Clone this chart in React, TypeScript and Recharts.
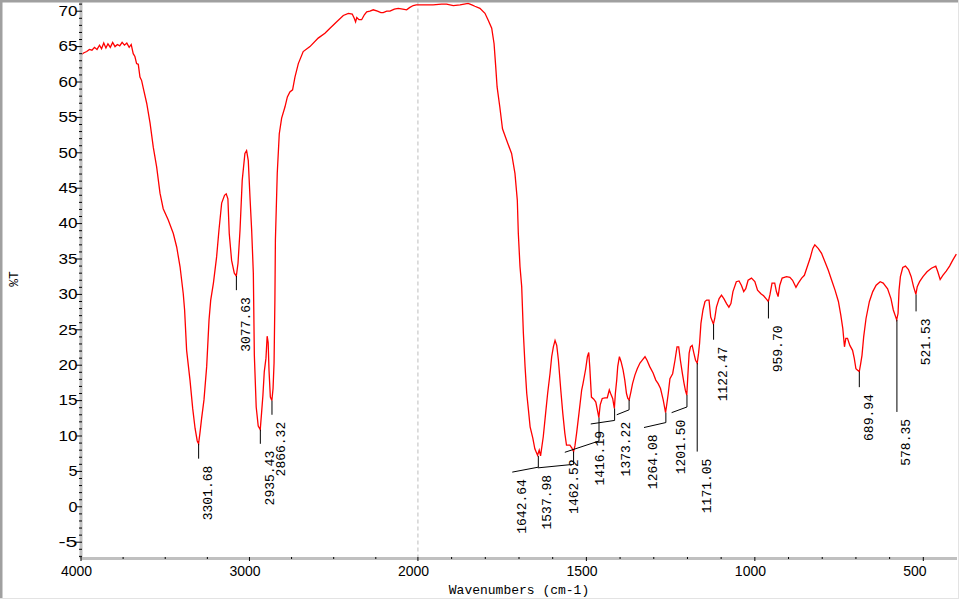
import React from "react";
import { ComposedChart, Line, Scatter, XAxis, YAxis, ReferenceLine } from "recharts";

// IR spectrum (wavenumber in cm-1, %T)
const wavenumbers = [
  4000, 3985, 3966, 3950, 3935, 3920, 3905, 3890, 3878, 3865,
  3852, 3840, 3826, 3812, 3798, 3784, 3770, 3756, 3742, 3728,
  3714, 3702, 3690, 3680, 3670, 3660, 3650, 3640, 3630, 3610,
  3590, 3571, 3551, 3531, 3512, 3482, 3452, 3432, 3412, 3393,
  3385, 3373, 3353, 3337, 3323, 3310, 3302, 3294, 3284, 3270,
  3254, 3240, 3230, 3214, 3195, 3181, 3165, 3148, 3138, 3128,
  3120, 3106, 3090, 3078, 3068, 3056, 3043, 3027, 3017, 3007,
  2997, 2987, 2977, 2971, 2960, 2948, 2936, 2928, 2920, 2912,
  2902, 2895, 2889, 2884, 2876, 2867, 2860, 2854, 2849, 2846,
  2835, 2823, 2809, 2789, 2775, 2760, 2744, 2730, 2710, 2681,
  2641, 2592, 2552, 2522, 2482, 2443, 2413, 2390, 2378, 2370,
  2363, 2350, 2334, 2318, 2304, 2285, 2265, 2240, 2220, 2206,
  2185, 2166, 2140, 2117, 2090, 2067, 2050, 2028, 2010,
  1994, 1955, 1930, 1915, 1895, 1875, 1851, 1840, 1831, 1816,
  1801, 1791, 1781, 1774, 1769, 1765, 1757, 1749, 1737, 1722,
  1712, 1705, 1702, 1697, 1692, 1687, 1682, 1677, 1672, 1667,
  1659, 1653, 1645, 1640, 1636, 1628, 1621, 1615, 1608, 1603,
  1598, 1593, 1588, 1583, 1576, 1570, 1564, 1559, 1549, 1543,
  1538, 1534, 1529, 1522, 1514, 1510, 1502, 1497, 1493, 1490,
  1485, 1478, 1472, 1467, 1463, 1459, 1453, 1445, 1438, 1432,
  1428, 1422, 1417, 1414, 1410, 1407, 1402, 1397, 1391, 1386,
  1381, 1377, 1373, 1368, 1363, 1356, 1349, 1341, 1333, 1326,
  1320, 1312, 1302, 1294, 1287, 1280, 1272, 1265, 1261, 1257,
  1252, 1244, 1237, 1231, 1226, 1221, 1215, 1210, 1206, 1202,
  1199, 1195, 1191, 1186, 1181, 1176, 1171, 1167, 1164, 1160,
  1154, 1148, 1143, 1136, 1131, 1123, 1119, 1114, 1106, 1099,
  1092, 1084, 1077, 1071, 1065, 1055, 1047, 1040, 1033, 1027,
  1020, 1010, 1000, 992, 982, 974, 965, 960, 955, 949,
  941, 936, 931, 926, 919, 906, 896, 888, 878, 871,
  861, 853, 846, 836, 828, 822, 812, 802, 792, 782,
  772, 762, 752, 745, 739, 734, 730, 725, 718, 710,
  705, 700, 695, 690, 686, 682, 677, 670, 660, 650,
  640, 628, 619, 606, 596, 589, 579, 575, 572, 568,
  561, 553, 544, 536, 529, 522, 518, 511, 501, 489,
  476, 463, 457, 450, 442, 432, 422, 413, 402,
];

const transmittance = [
  63.8, 64.1, 64.3, 64.6, 64.5, 64.9, 64.6, 65.2, 64.7, 65.5,
  64.8, 65.4, 64.9, 65.6, 65.0, 65.3, 65.1, 65.6, 65.2, 65.5,
  64.9, 65.3, 64.0, 63.6, 62.6, 62.5, 60.7, 60.2, 59.1, 57.0,
  54.2, 50.8, 48.0, 44.3, 42.1, 40.5, 38.6, 36.7, 33.9, 30.1,
  27.8, 22.1, 17.9, 13.9, 11.1, 9.3, 8.9, 10.4, 12.5, 15.1,
  19.8, 26.4, 29.2, 31.6, 35.3, 39.1, 42.9, 44.0, 44.2, 43.5,
  38.6, 34.8, 33.0, 32.6, 34.4, 39.1, 46.1, 49.9, 50.3, 48.9,
  43.8, 39.1, 33.0, 21.4, 14.1, 11.4, 10.9, 13.3, 15.8, 19.1,
  21.0, 24.1, 23.2, 19.3, 15.5, 15.0, 16.7, 20.3, 29.2, 37.7,
  47.1, 52.7, 54.9, 56.5, 57.9, 58.6, 58.9, 60.7, 62.6, 64.3,
  65.0, 66.2, 66.9, 67.6, 68.5, 69.4, 69.7, 69.6, 69.0, 68.5,
  69.1, 68.8, 68.8, 69.5, 69.9, 70.0, 70.2, 70.0, 69.8, 69.8,
  70.0, 70.0, 70.3, 70.4, 70.3, 70.2, 70.5, 70.8, 70.9,
  70.9, 70.9, 71.0, 71.0, 70.8, 70.9, 71.1, 70.9, 70.7, 70.4,
  69.7, 68.7, 67.6, 65.4, 62.1, 59.3, 56.5, 53.4, 51.8, 49.9,
  47.1, 43.3, 38.6, 33.9, 31.1, 24.5, 19.8, 16.0, 13.7, 11.3,
  9.7, 8.2, 7.3, 8.0, 7.2, 9.9, 13.2, 16.0, 18.8, 21.2,
  22.6, 23.5, 22.8, 20.7, 16.5, 13.2, 10.4, 8.7, 8.7, 8.3,
  7.8, 8.6, 10.4, 13.2, 16.5, 17.4, 19.5, 21.2, 21.8, 19.8,
  15.5, 15.2, 14.8, 13.6, 12.6, 14.4, 15.3, 15.4, 15.4, 16.5,
  16.0, 15.3, 13.9, 16.0, 17.9, 19.8, 21.2, 20.5, 19.3, 17.9,
  16.0, 15.3, 15.1, 16.2, 17.4, 18.6, 19.5, 20.3, 20.8, 21.2,
  20.7, 19.8, 18.9, 17.9, 17.4, 16.7, 15.1, 13.3, 14.6, 16.0,
  18.1, 18.8, 20.7, 22.6, 22.6, 20.7, 18.8, 17.4, 16.4, 15.8,
  18.4, 21.7, 22.6, 22.8, 21.7, 20.7, 20.3, 21.7, 23.1, 25.9,
  27.8, 29.0, 29.2, 29.2, 26.8, 25.8, 26.6, 28.2, 29.4, 29.9,
  29.4, 28.7, 28.2, 28.7, 30.4, 31.8, 31.9, 31.3, 30.4, 30.8,
  32.0, 32.3, 31.8, 30.6, 30.1, 29.8, 29.3, 29.0, 30.0, 31.6,
  31.6, 30.4, 29.7, 31.3, 32.3, 32.5, 32.4, 32.0, 31.0, 31.6,
  32.3, 32.7, 33.7, 35.1, 36.5, 37.0, 36.5, 35.8, 34.6, 33.4,
  32.0, 30.6, 29.0, 27.1, 25.2, 22.6, 23.8, 23.8, 22.8, 22.1,
  21.0, 19.5, 19.3, 19.1, 20.2, 21.4, 24.0, 26.6, 29.0, 30.4,
  31.3, 31.8, 31.6, 30.8, 29.4, 27.8, 26.4, 27.3, 30.6, 32.5,
  33.8, 34.0, 33.5, 32.5, 31.1, 30.0, 31.1, 31.8, 32.5, 33.2,
  33.7, 34.0, 33.2, 32.1, 32.7, 33.3, 34.0, 34.8, 35.7,
];

// peak picks: label, %T at the peak, where the tick ends, where the label sits
const peakLabels = [
  "3301.68", "3077.63", "2935.43", "2866.32", "1642.64", "1537.98", "1462.52", "1416.19", "1373.22",
  "1264.08", "1201.50", "1171.05", "1122.47", "959.70", "689.94", "578.35", "521.53",
];
const peakTop = [8.9, 32.6, 10.9, 15.0, 7.2, 7.8, 12.6, 13.9, 15.1, 13.3, 15.8, 20.3, 25.8, 29.0, 19.1, 26.4, 30.0];
const tickEnd = [6.8, 30.6, 8.9, 13.0, 5.6, 6.0, 9.3, 12.2, 13.7, 11.9, 14.1, 7.8, 23.6, 26.6, 16.9, 13.4, 27.6];
const labelWn = [3301.68, 3077.63, 2935.43, 2866.32, 1720, 1644, 1564, 1487, 1410, 1329, 1247, 1171.05, 1122.47, 959.7, 689.94, 578.35, 521.53];
const labelT = [6.8, 30.6, 8.9, 13.0, 4.9, 5.5, 7.7, 11.7, 13.0, 11.2, 13.3, 7.8, 23.6, 26.6, 16.9, 13.4, 27.6];

const xTickWn = [
  4000, 3750, 3500, 3250, 3000, 2750, 2500, 2250, 2000,
  1900, 1800, 1700, 1600, 1500, 1400, 1300, 1200, 1100, 1000, 900, 800, 700, 600, 500,
];
const xLabelWn = [4000, 3000, 2000, 1500, 1000, 500];

const PLOT_LEFT = 81;
const PLOT_BOTTOM = 558.5;
const MONO = "'Liberation Mono', 'DejaVu Sans Mono', monospace";
const SANS = "'Liberation Sans', Arial, sans-serif";

// 4000-2000 is drawn at half the scale of 2000-400, like the instrument plot
const toPos = (wn: number) => (wn >= 2000 ? (4000 - wn) / 2 : 1000 + (2000 - wn));
const fromPos = (p: number) => (p <= 1000 ? 4000 - 2 * p : 2000 - (p - 1000));

const spectrum = wavenumbers.map((wn, i) => ({ pos: toPos(wn), t: transmittance[i] }));
const labelPoints = peakLabels.map((text, i) => ({ pos: toPos(labelWn[i]), t: labelT[i], text }));
const xTicks = xTickWn.map(toPos);
const yTicks = Array.from({ length: 79 }, (_, i) => i - 7);

const XTick = (props: any) => {
  const { x, payload } = props;
  const wn = Math.round(fromPos(payload.value));
  const major = xLabelWn.includes(wn);
  return (
    <g>
      <line x1={x} x2={x} y1={PLOT_BOTTOM - 1.5} y2={PLOT_BOTTOM + (major ? 2.5 : 0.5)} stroke="#000" />
      {major && (
        <text x={x - 20} y={PLOT_BOTTOM + 17} fontFamily={SANS} fontSize={14} fill="#000">
          {wn}
        </text>
      )}
    </g>
  );
};

const YTick = (props: any) => {
  const { y, payload } = props;
  const v = payload.value;
  const major = v % 5 === 0;
  const label = String(v);
  return (
    <g>
      <line x1={PLOT_LEFT - (major ? 5 : 2)} x2={PLOT_LEFT + 1} y1={y} y2={y} stroke="#000" />
      {major && (
        <text
          x={77.5}
          y={y + 4.8}
          textAnchor="end"
          fontFamily={SANS}
          fontSize={14}
          textLength={label.length * 10 - 1}
          lengthAdjust="spacingAndGlyphs"
          fill="#000"
        >
          {label}
        </text>
      )}
    </g>
  );
};

const PeakText = (props: any) => {
  const { cx, cy, payload } = props;
  return (
    <text
      transform={`translate(${cx + 13.5},${cy + 7}) rotate(-90)`}
      textAnchor="end"
      fontFamily={MONO}
      fontSize={13}
      fill="#000"
    >
      {payload.text}
    </text>
  );
};

const App: React.FC = () => {
  const leaders: React.ReactNode[] = [];
  peakLabels.forEach((text, i) => {
    const p = toPos(parseFloat(text));
    leaders.push(
      <ReferenceLine
        key={`v${i}`}
        segment={[{ x: p, y: peakTop[i] }, { x: p, y: tickEnd[i] }]}
        stroke="#000"
        strokeWidth={1}
        ifOverflow="visible"
      />
    );
    if (labelPoints[i].pos !== p) {
      leaders.push(
        <ReferenceLine
          key={`d${i}`}
          segment={[{ x: p, y: tickEnd[i] }, { x: labelPoints[i].pos, y: labelT[i] }]}
          stroke="#000"
          strokeWidth={1}
          ifOverflow="visible"
        />
      );
    }
  });

  return (
    <div style={{ position: "absolute", left: 0, top: 0, width: 960, height: 600, background: "#fff" }}>
      <ComposedChart width={960} height={600} data={spectrum} margin={{ top: 2, right: 3, bottom: 0, left: 0 }}>
        <XAxis
          dataKey="pos"
          type="number"
          domain={[0, 2600]}
          ticks={xTicks}
          interval={0}
          tick={XTick}
          tickLine={false}
          axisLine={{ stroke: "#c0c0c0", strokeWidth: 3 }}
          height={41.5}
          allowDataOverflow
        />
        <YAxis
          type="number"
          domain={[-7.3, 71.3]}
          ticks={yTicks}
          interval={0}
          tick={YTick}
          tickLine={false}
          axisLine={{ stroke: "#c0c0c0", strokeWidth: 3 }}
          width={81}
          allowDataOverflow
        />
        <ReferenceLine x={1000} stroke="#bdbdbd" strokeDasharray="4 3" />
        <Line
          dataKey="t"
          type="linear"
          stroke="#ff0000"
          strokeWidth={1.3}
          dot={false}
          activeDot={false}
          isAnimationActive={false}
        />
        {leaders}
        <Scatter data={labelPoints} dataKey="t" shape={PeakText} isAnimationActive={false} />
      </ComposedChart>
      <svg width={960} height={600} style={{ position: "absolute", left: 0, top: 0, pointerEvents: "none" }}>
        <rect x={0} y={0} width={959} height={2.5} fill="#a0a0a0" />
        <rect x={0} y={0} width={2.5} height={599} fill="#a0a0a0" />
        <line x1={958.5} x2={958.5} y1={0} y2={599} stroke="#e3e3e3" />
        <line x1={0} x2={959} y1={598.5} y2={598.5} stroke="#e3e3e3" />
        <text transform="translate(17.5,279) rotate(-90)" textAnchor="middle" fontFamily={MONO} fontSize={13} fill="#000">
          %T
        </text>
        <text x={519} y={593.5} textAnchor="middle" fontFamily={MONO} fontSize={13} fill="#000">
          Wavenumbers (cm-1)
        </text>
      </svg>
    </div>
  );
};

export default App;
